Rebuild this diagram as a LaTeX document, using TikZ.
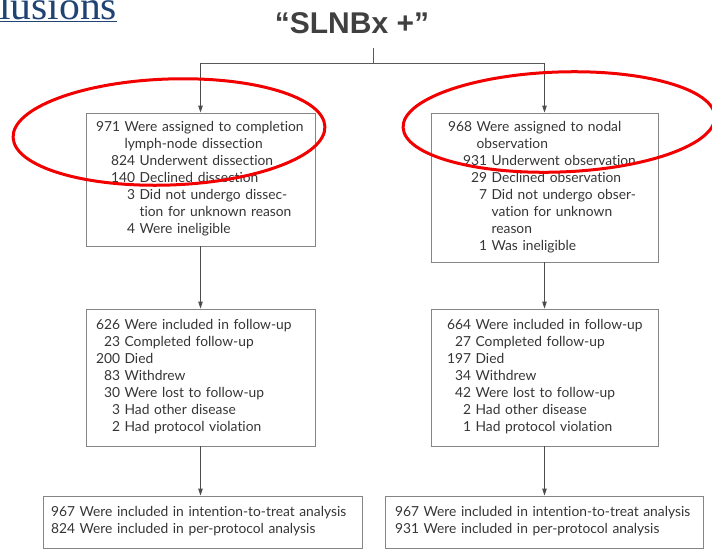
\documentclass[tikz,border=0pt]{standalone}
\usepackage{fontspec}
\setmainfont{Lato}[Ligatures=NoCommon]
\newfontfamily\titlefont{Liberation Sans}
\newfontfamily\linkfont{Liberation Serif}
\usetikzlibrary{arrows.meta}
\setlength{\parindent}{0pt}
\definecolor{boxGray}{HTML}{858585}
\definecolor{textGray}{HTML}{353535}
\definecolor{titleGray}{HTML}{404040}
\definecolor{linkBlue}{HTML}{1F4373}
\definecolor{ringRed}{HTML}{F20000}

\begin{document}
\begin{tikzpicture}[x=1pt,y=-1pt]
    \tikzstyle{flowBox}=[draw=boxGray, line width=0.9pt, align=left, text=textGray, inner ysep=0pt, font=\fontsize{13.8}{17}\selectfont]
    \tikzstyle{flowLine}=[draw=black!65, line width=0.9pt]
    \tikzstyle{flowArrow}=[flowLine, -{Stealth[length=7pt,width=4.5pt,inset=0pt]}, draw=black!70, fill=black]
    \tikzstyle{redRing}=[draw=ringRed, line width=3pt]
    \useasboundingbox (0,0) rectangle (712,550);

    \node[font=\linkfont\fontsize{40}{44}\selectfont, text=linkBlue, anchor=base west, inner sep=0pt] (concl) at (-1,19) {\scalebox{1.04}[1]{\underline{lusions}}};
    \node[font=\titlefont\bfseries\fontsize{30}{36}\selectfont, text=titleGray, inner sep=0pt] (title) at (352,23) {“SLNBx +”};

    \node[flowBox, text width=209pt, inner xsep=10pt, minimum height=133pt] (assignL) at (200.5,179.5) {%
      \begin{tabular}{@{}r@{\ }l@{}}
        \multicolumn{2}{@{}l@{}}{971 Were assigned to completion}\\
        \multicolumn{2}{@{}l@{}}{\phantom{971 }lymph-node dissection}\\
        \hspace*{15pt}824 & Underwent dissection\\
        140 & Declined dissection\\
        3 & Did not undergo dissec-\\
          & tion for unknown reason\\
        4 & Were ineligible
      \end{tabular}};
    \node[flowBox, text width=193pt, inner xsep=17pt, minimum height=149pt] (assignR) at (544.5,187.5) {%
      \begin{tabular}{@{}r@{\ }l@{}}
        \multicolumn{2}{@{}l@{}}{968 Were assigned to nodal}\\
        \multicolumn{2}{@{}l@{}}{\phantom{968 }observation}\\
        \hspace*{15pt}931 & Underwent observation\\
        29 & Declined observation\\
        7 & Did not undergo obser-\\
          & vation for unknown\\
          & reason\\
        1 & Was ineligible
      \end{tabular}};

    \node[flowBox, text width=209pt, inner xsep=10pt, minimum height=137pt] (followL) at (200.5,377.5) {%
      \begin{tabular}{@{}r@{\ }l@{}}
        626 & Were included in follow-up\\
        23 & Completed follow-up\\
        200 & Died\\
        83 & Withdrew\\
        30 & Were lost to follow-up\\
        3 & Had other disease\\
        2 & Had protocol violation
      \end{tabular}};
    \node[flowBox, text width=195pt, inner xsep=16pt, minimum height=137pt] (followR) at (544.5,377.5) {%
      \begin{tabular}{@{}r@{\ }l@{}}
        664 & Were included in follow-up\\
        27 & Completed follow-up\\
        197 & Died\\
        34 & Withdrew\\
        42 & Were lost to follow-up\\
        2 & Had other disease\\
        1 & Had protocol violation
      \end{tabular}};

    \node[flowBox, text width=303pt, inner xsep=8pt, minimum height=52pt] (analysisL) at (202.5,522) {%
      \begin{tabular}{@{}l@{}}
        967 Were included in intention-to-treat analysis\\
        824 Were included in per-protocol analysis
      \end{tabular}};
    \node[flowBox, text width=298pt, inner xsep=10pt, minimum height=52pt] (analysisR) at (544,522) {%
      \begin{tabular}{@{}l@{}}
        967 Were included in intention-to-treat analysis\\
        931 Were included in per-protocol analysis
      \end{tabular}};

    \coordinate (stemTop) at (373,48);
    \coordinate (splitL) at (200.5,63);
    \coordinate (splitR) at (544.5,63);

    \draw[flowLine] (stemTop) |- (splitL);
    \draw[flowLine] (stemTop) |- (splitR);
    \draw[flowArrow] (splitL) -- (assignL.north);
    \draw[flowArrow] (splitR) -- (assignR.north);
    \draw[flowArrow] (assignL.south) -- (followL.north);
    \draw[flowArrow] (assignR.south) -- (followR.north);
    \draw[flowArrow] (followL.south) -- (followL.south |- analysisL.north);
    \draw[flowArrow] (followR.south) -- (analysisR.north -| followR.south);

    % highlight rings
    \draw[redRing, rotate around={2:(169,132)}] (169,132) ellipse [x radius=156, y radius=53];
    \draw[redRing, rotate around={2:(559,122)}] (559,122) ellipse [x radius=156, y radius=50];
\end{tikzpicture}
\end{document}
